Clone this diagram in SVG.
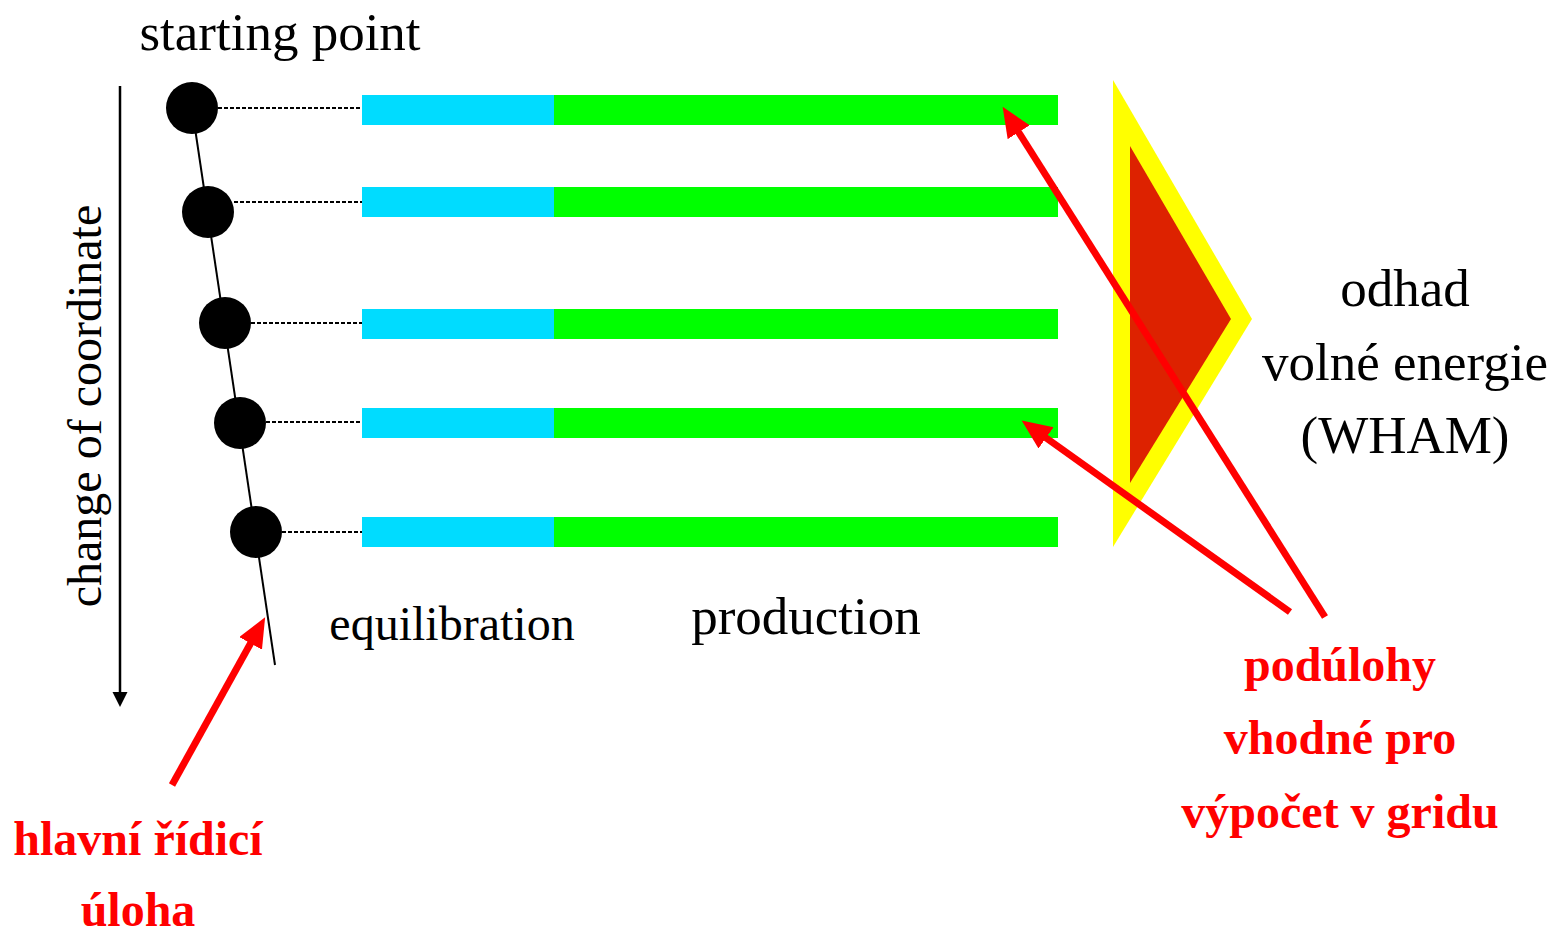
<svg xmlns="http://www.w3.org/2000/svg" width="1558" height="932" viewBox="0 0 1558 932">
<defs>
<style>
.t{font-family:"Liberation Serif","Times New Roman",serif;fill:#000}
.r{font-family:"Liberation Serif","Times New Roman",serif;font-weight:bold;fill:#ff0000;font-size:48px}
.dot{stroke:#000;stroke-width:2.2;stroke-dasharray:4 2;fill:none}
.eq{fill:#00dcff}
.pr{fill:#00ff00}
.ra{stroke:#ff0000;stroke-width:7;fill:none}
</style>
<marker id="rh" markerUnits="userSpaceOnUse" markerWidth="34" markerHeight="30" refX="5" refY="13" orient="auto">
<path d="M0,0 L30,13 L0,26 Z" fill="#ff0000"/>
</marker>
</defs>
<rect width="1558" height="932" fill="#fff"/>
<g id="axis">
<line x1="120" y1="86" x2="120" y2="694" stroke="#000" stroke-width="2.5"/>
<polygon points="112.5,692 127.5,692 120,707" fill="#000"/>
<text class="t" font-size="48" transform="translate(101,406) rotate(-90)" text-anchor="middle">change of coordinate</text>
</g>
<g id="chain">
<line x1="192" y1="108" x2="275" y2="665" stroke="#000" stroke-width="2"/>
</g>
<g id="wham">
<polygon points="1113,80 1252,319 1113,547" fill="#ffff00"/>
<polygon points="1130,146 1231,319 1130,483" fill="#dd2200"/>
</g>
<g id="window1"><circle cx="192" cy="108" r="26"/><rect class="eq" x="362" y="95" width="192" height="30"/><rect class="pr" x="554" y="95" width="504" height="30"/></g>
<g id="window2"><circle cx="208" cy="212" r="26"/><rect class="eq" x="362" y="187" width="192" height="30"/><rect class="pr" x="554" y="187" width="504" height="30"/></g>
<g id="window3"><circle cx="225" cy="323" r="26"/><rect class="eq" x="362" y="309" width="192" height="30"/><rect class="pr" x="554" y="309" width="504" height="30"/></g>
<g id="window4"><circle cx="240" cy="423" r="26"/><rect class="eq" x="362" y="408" width="192" height="30"/><rect class="pr" x="554" y="408" width="504" height="30"/></g>
<g id="window5"><circle cx="256" cy="532" r="26"/><rect class="eq" x="362" y="517" width="192" height="30"/><rect class="pr" x="554" y="517" width="504" height="30"/></g>
<g id="connectors">
<line class="dot" x1="218" y1="108" x2="362" y2="108"/>
<line class="dot" x1="234" y1="202" x2="362" y2="202"/>
<line class="dot" x1="251" y1="323" x2="362" y2="323"/>
<line class="dot" x1="266" y1="422" x2="362" y2="422"/>
<line class="dot" x1="282" y1="532" x2="362" y2="532"/>
<line class="ra" x1="1325" y1="617" x2="1016" y2="128" marker-end="url(#rh)"/>
<line class="ra" x1="1290" y1="612" x2="1042" y2="435" marker-end="url(#rh)"/>
<line class="ra" x1="172" y1="785" x2="253" y2="639" marker-end="url(#rh)"/>
</g>
<g id="labels">
<text class="t" font-size="53" x="280" y="50" text-anchor="middle">starting point</text>
<text class="t" font-size="48" x="452" y="640" text-anchor="middle">equilibration</text>
<text class="t" font-size="53" x="806" y="634" text-anchor="middle">production</text>
<text class="t" font-size="53" x="1405" y="306" text-anchor="middle">odhad</text>
<text class="t" font-size="53" x="1405" y="380" text-anchor="middle">volné energie</text>
<text class="t" font-size="53" x="1405" y="453" text-anchor="middle">(WHAM)</text>
<text class="r" x="1340" y="681" text-anchor="middle">podúlohy</text>
<text class="r" x="1340" y="754" text-anchor="middle">vhodné pro</text>
<text class="r" x="1340" y="828" text-anchor="middle">výpočet v gridu</text>
<text class="r" x="138" y="855" text-anchor="middle">hlavní řídicí</text>
<text class="r" x="138" y="926" text-anchor="middle">úloha</text>
</g>
</svg>
